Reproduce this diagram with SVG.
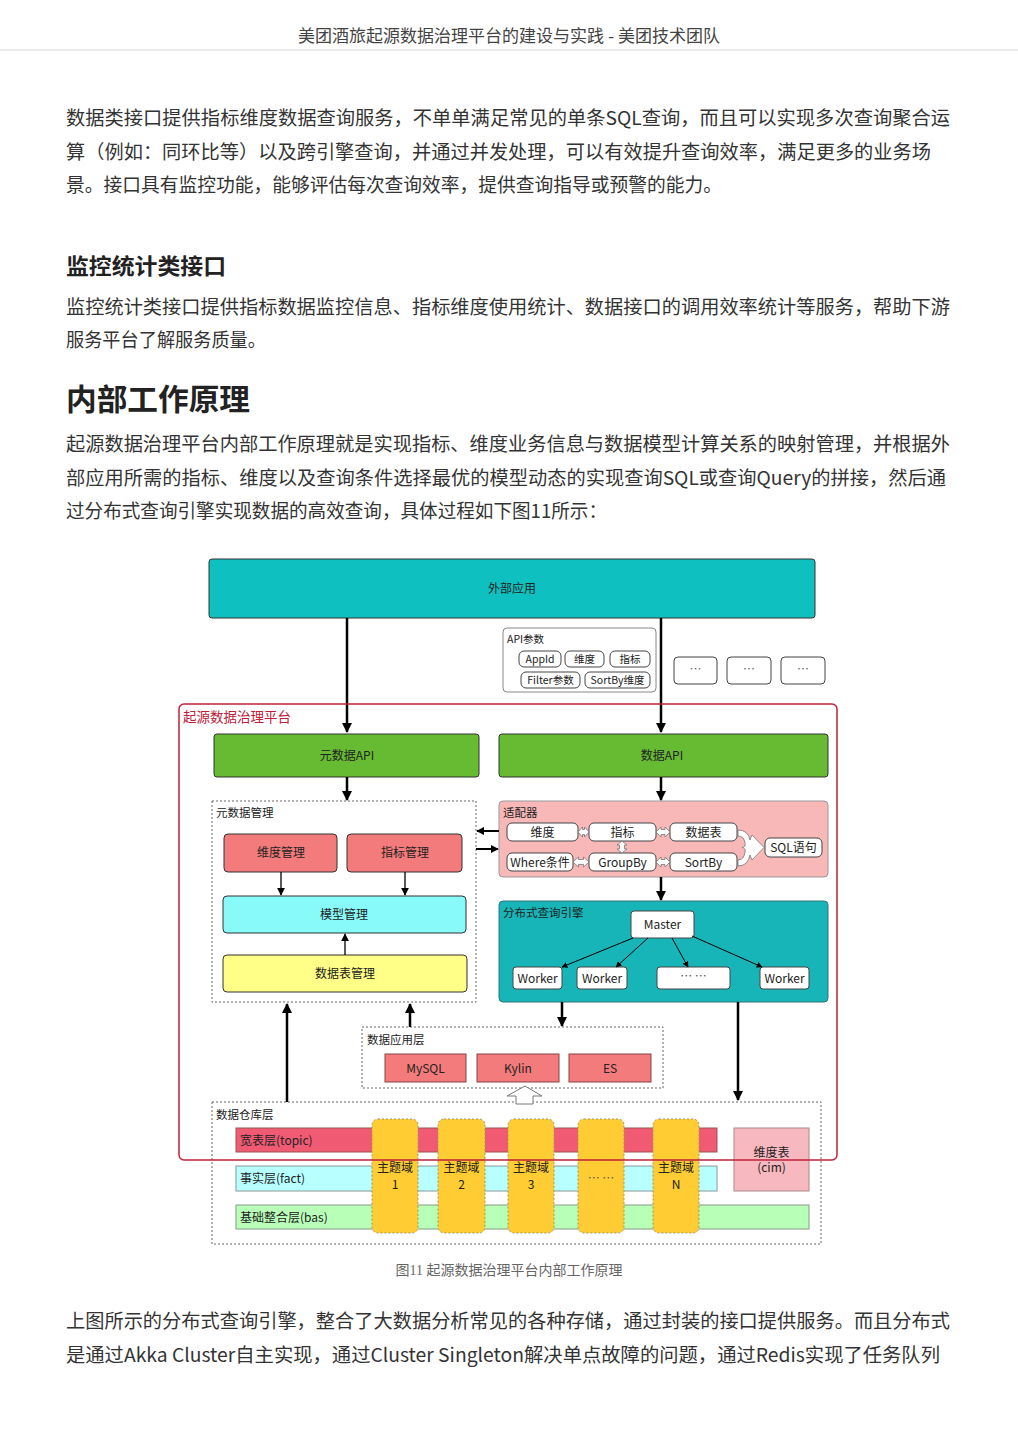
<svg xmlns="http://www.w3.org/2000/svg" width="1018" height="1440" viewBox="0 0 1018 1440">
<style>
.hdr{font-family:"Liberation Serif","Noto Sans CJK SC",serif;font-size:17px;fill:#444}
.body{font-family:"Noto Sans CJK SC",sans-serif;font-size:19px;fill:#333}
.h3{font-family:"Noto Sans CJK SC",sans-serif;font-size:22px;font-weight:bold;fill:#222}
.h2{font-family:"Noto Sans CJK SC",sans-serif;font-size:30px;font-weight:bold;fill:#222}
.cap{font-family:"Liberation Serif","Noto Sans CJK SC",serif;font-size:14px;fill:#666}
.t{font-family:"Noto Sans CJK SC",sans-serif;font-size:12px;fill:#222}
.tc{font-family:"Noto Sans CJK SC",sans-serif;font-size:12px;fill:#222;text-anchor:middle}
.lbl{font-family:"Noto Sans CJK SC",sans-serif;font-size:11.5px;fill:#222}
.box{stroke:#333;stroke-width:1}
.dot{fill:none;stroke:#666;stroke-width:1;stroke-dasharray:2,2}
.pill{fill:#fff;stroke:#444;stroke-width:1}
.conn{stroke:#000;fill:none}
.dbl{fill:#fff;stroke:#777;stroke-width:0.8}
</style>
<defs>
<marker id="ah" viewBox="0 0 10 10" refX="9" refY="5" markerWidth="4" markerHeight="4.4" orient="auto" markerUnits="strokeWidth"><path d="M0,0 L10,5 L0,10 z" fill="#000"/></marker>
<marker id="ahs" viewBox="0 0 10 10" refX="9" refY="5" markerWidth="6" markerHeight="6" orient="auto" markerUnits="strokeWidth"><path d="M0,0 L10,5 L0,10 z" fill="#000"/></marker>
</defs>
<rect width="1018" height="1440" fill="#fff"/>
<g id="page-text">
<text class="hdr" x="509" y="42" text-anchor="middle">美团酒旅起源数据治理平台的建设与实践 - 美团技术团队</text>
<line x1="0" y1="50" x2="1018" y2="50" stroke="#e4e4e4" stroke-width="1.5"/>
<text class="body" x="66" y="125" textLength="884" lengthAdjust="spacingAndGlyphs">数据类接口提供指标维度数据查询服务，不单单满足常见的单条SQL查询，而且可以实现多次查询聚合运</text>
<text class="body" x="66" y="159" textLength="865" lengthAdjust="spacingAndGlyphs">算（例如：同环比等）以及跨引擎查询，并通过并发处理，可以有效提升查询效率，满足更多的业务场</text>
<text class="body" x="66" y="192" textLength="656" lengthAdjust="spacingAndGlyphs">景。接口具有监控功能，能够评估每次查询效率，提供查询指导或预警的能力。</text>
<text class="h3" x="66" y="274" textLength="160" lengthAdjust="spacingAndGlyphs">监控统计类接口</text>
<text class="body" x="66" y="314" textLength="884" lengthAdjust="spacingAndGlyphs">监控统计类接口提供指标数据监控信息、指标维度使用统计、数据接口的调用效率统计等服务，帮助下游</text>
<text class="body" x="66" y="347" textLength="200" lengthAdjust="spacingAndGlyphs">服务平台了解服务质量。</text>
<text class="h2" x="66" y="410" textLength="184" lengthAdjust="spacingAndGlyphs">内部工作原理</text>
<text class="body" x="66" y="451" textLength="884" lengthAdjust="spacingAndGlyphs">起源数据治理平台内部工作原理就是实现指标、维度业务信息与数据模型计算关系的映射管理，并根据外</text>
<text class="body" x="66" y="485" textLength="880" lengthAdjust="spacingAndGlyphs">部应用所需的指标、维度以及查询条件选择最优的模型动态的实现查询SQL或查询Query的拼接，然后通</text>
<text class="body" x="66" y="518" textLength="541" lengthAdjust="spacingAndGlyphs">过分布式查询引擎实现数据的高效查询，具体过程如下图11所示：</text>
<text class="cap" x="509" y="1275" text-anchor="middle">图11 起源数据治理平台内部工作原理</text>
<text class="body" x="66" y="1328" textLength="884" lengthAdjust="spacingAndGlyphs">上图所示的分布式查询引擎，整合了大数据分析常见的各种存储，通过封装的接口提供服务。而且分布式</text>
<text class="body" x="66" y="1362" textLength="874" lengthAdjust="spacingAndGlyphs">是通过Akka Cluster自主实现，通过Cluster Singleton解决单点故障的问题，通过Redis实现了任务队列</text>
</g>

<g id="ext-app"><rect class="box" x="209" y="559" width="606" height="59" rx="3" fill="#0EC0C0"/><text class="tc" x="512" y="593">外部应用</text></g>

<g id="api-params">
<rect x="503" y="628" width="153" height="64" rx="4" fill="#fff" stroke="#888"/>
<text class="lbl" x="507" y="643" style="font-size:10.5px">API参数</text>
<rect class="pill" x="519" y="651" width="42" height="16" rx="5"/><text class="tc" x="540" y="663" style="font-size:10.5px">AppId</text>
<rect class="pill" x="565" y="651" width="39" height="16" rx="5"/><text class="tc" x="584.5" y="663" style="font-size:10.5px">维度</text>
<rect class="pill" x="610" y="651" width="40" height="16" rx="5"/><text class="tc" x="630" y="663" style="font-size:10.5px">指标</text>
<rect class="pill" x="521" y="672" width="59" height="16" rx="5"/><text class="tc" x="550.5" y="684" style="font-size:10.5px">Filter参数</text>
<rect class="pill" x="585" y="672" width="65" height="16" rx="5"/><text class="tc" x="617.5" y="684" style="font-size:10.5px">SortBy维度</text>
</g>
<g id="more1"><rect class="pill" x="674" y="657" width="43" height="27" rx="4"/><text class="tc" x="695.5" y="674" style="fill:#666">…</text></g>
<g id="more2"><rect class="pill" x="727" y="657" width="44" height="27" rx="4"/><text class="tc" x="749" y="674" style="fill:#666">…</text></g>
<g id="more3"><rect class="pill" x="781" y="657" width="44" height="27" rx="4"/><text class="tc" x="803" y="674" style="fill:#666">…</text></g>

<g id="meta-api"><rect class="box" x="214" y="734" width="265" height="43" rx="3" fill="#66BB33"/><text class="tc" x="347" y="760">元数据API</text></g>
<g id="data-api"><rect class="box" x="499" y="734" width="329" height="43" rx="3" fill="#66BB33"/><text class="tc" x="662" y="760">数据API</text></g>

<g id="meta-mgmt">
<rect class="dot" x="212" y="801" width="264" height="201"/>
<text class="lbl" x="216" y="817">元数据管理</text>
</g>
<g id="dim-mgmt"><rect class="box" x="224" y="834" width="113" height="38" rx="4" fill="#F47B7B" stroke="#a55"/><text class="tc" x="281" y="857">维度管理</text></g>
<g id="ind-mgmt"><rect class="box" x="347" y="834" width="115" height="38" rx="4" fill="#F47B7B" stroke="#a55"/><text class="tc" x="405" y="857">指标管理</text></g>
<g id="model-mgmt"><rect class="box" x="223" y="896" width="243" height="37" rx="4" fill="#88FAFA" stroke="#5aa"/><text class="tc" x="344" y="919">模型管理</text></g>
<g id="table-mgmt"><rect class="box" x="223" y="955" width="244" height="37" rx="4" fill="#FFFF88" stroke="#aa6"/><text class="tc" x="345" y="978">数据表管理</text></g>

<g id="adapter">
<rect x="499" y="801" width="329" height="76" rx="4" fill="#F8B8B8" stroke="#999"/>
<text class="lbl" x="503" y="817">适配器</text>
<rect class="pill" x="507" y="823" width="71" height="18" rx="5"/><text class="tc" x="542.5" y="836.5">维度</text>
<rect class="pill" x="589" y="823" width="67" height="18" rx="5"/><text class="tc" x="622.5" y="836.5">指标</text>
<rect class="pill" x="670" y="823" width="67" height="18" rx="5"/><text class="tc" x="703.5" y="836.5">数据表</text>
<rect class="pill" x="507" y="853" width="66" height="18" rx="5"/><text class="tc" x="540" y="866.5">Where条件</text>
<rect class="pill" x="589" y="853" width="67" height="18" rx="5"/><text class="tc" x="622.5" y="866.5">GroupBy</text>
<rect class="pill" x="670" y="853" width="67" height="18" rx="5"/><text class="tc" x="703.5" y="866.5">SortBy</text>
<rect class="pill" x="765" y="838" width="57" height="19" rx="5"/><text class="tc" x="793.5" y="852">SQL语句</text>
<path class="dbl" d="M578,832 L582.5,827 L582.5,829.5 L584.5,829.5 L584.5,827 L589,832 L584.5,837 L584.5,834.5 L582.5,834.5 L582.5,837 Z"/>
<path class="dbl" d="M656,832 L661,827 L661,829.5 L665,829.5 L665,827 L670,832 L665,837 L665,834.5 L661,834.5 L661,837 Z"/>
<path class="dbl" d="M573,862 L578.5,857 L578.5,859.5 L583.5,859.5 L583.5,857 L589,862 L583.5,867 L583.5,864.5 L578.5,864.5 L578.5,867 Z"/>
<path class="dbl" d="M656,862 L661,857 L661,859.5 L665,859.5 L665,857 L670,862 L665,867 L665,864.5 L661,864.5 L661,867 Z"/>
<path class="dbl" d="M622,841 L627,845 L624.5,845 L624.5,849 L627,849 L622,853 L617,849 L619.5,849 L619.5,845 L617,845 Z"/>
<path class="dbl" d="M738,830 Q748,830 750,840 L752,835 L764,847.5 L752,860 L750,855 Q748,866 738,866 L738,860 Q744,860 745,852 Q746,848 742,847.5 Q746,847 745,843 Q744,836 738,836 Z"/>
</g>

<g id="engine">
<rect x="499" y="901" width="329" height="101" rx="4" fill="#17B4B8" stroke="#377"/>
<text class="lbl" x="503" y="917">分布式查询引擎</text>
</g>
<g id="master"><rect class="pill" x="631" y="911" width="63" height="27" rx="3" stroke="#555"/><text class="tc" x="662.5" y="929">Master</text></g>
<g id="worker1"><rect class="pill" x="513" y="967" width="49" height="22" rx="3" stroke="#555"/><text class="tc" x="537.5" y="982.5">Worker</text></g>
<g id="worker2"><rect class="pill" x="577" y="967" width="50" height="22" rx="3" stroke="#555"/><text class="tc" x="602" y="982.5">Worker</text></g>
<g id="worker3"><rect class="pill" x="657" y="967" width="73" height="22" rx="3" stroke="#555"/><text class="tc" x="693.5" y="981" style="fill:#555">… …</text></g>
<g id="worker4"><rect class="pill" x="760" y="967" width="49" height="22" rx="3" stroke="#555"/><text class="tc" x="784.5" y="982.5">Worker</text></g>

<g id="app-layer">
<rect class="dot" x="362" y="1027" width="301" height="61"/>
<text class="lbl" x="367" y="1044">数据应用层</text>
</g>
<g id="mysql"><rect x="385" y="1054" width="81" height="28" fill="#F47B7B" stroke="#844"/><text class="tc" x="425.5" y="1072.5">MySQL</text></g>
<g id="kylin"><rect x="477" y="1054" width="82" height="28" fill="#F47B7B" stroke="#844"/><text class="tc" x="518" y="1072.5">Kylin</text></g>
<g id="es"><rect x="569" y="1054" width="82" height="28" fill="#F47B7B" stroke="#844"/><text class="tc" x="610" y="1072.5">ES</text></g>

<g id="warehouse">
<rect class="dot" x="212" y="1102" width="609" height="142"/>
<text class="lbl" x="216" y="1119">数据仓库层</text>
</g>
<g id="topic"><rect x="236" y="1128" width="481" height="24" fill="#F05A72" stroke="#955"/><text class="t" x="240" y="1144.5">宽表层(topic)</text></g>
<g id="fact"><rect x="236" y="1166" width="481" height="25" fill="#B8FFFF" stroke="#899"/><text class="t" x="240" y="1183">事实层(fact)</text></g>
<g id="bas"><rect x="236" y="1205" width="573" height="24" fill="#B8FFB8" stroke="#898"/><text class="t" x="240" y="1221.5">基础整合层(bas)</text></g>
<g id="dim-table"><rect x="734" y="1128" width="75" height="63" fill="#F8B8C0" stroke="#a88"/><text class="tc" x="771.5" y="1157">维度表</text><text class="tc" x="771.5" y="1172">(cim)</text></g>
<g id="domain1"><rect x="372" y="1119" width="46" height="114" rx="6" fill="#FFCC33" stroke="#996" stroke-dasharray="2,2"/><text class="tc" x="395" y="1172">主题域</text><text class="tc" x="395" y="1189">1</text></g>
<g id="domain2"><rect x="438" y="1119" width="47" height="114" rx="6" fill="#FFCC33" stroke="#996" stroke-dasharray="2,2"/><text class="tc" x="461.5" y="1172">主题域</text><text class="tc" x="461.5" y="1189">2</text></g>
<g id="domain3"><rect x="508" y="1119" width="46" height="114" rx="6" fill="#FFCC33" stroke="#996" stroke-dasharray="2,2"/><text class="tc" x="531" y="1172">主题域</text><text class="tc" x="531" y="1189">3</text></g>
<g id="domain4"><rect x="578" y="1119" width="46" height="114" rx="6" fill="#FFCC33" stroke="#996" stroke-dasharray="2,2"/><text class="tc" x="601" y="1183" style="fill:#555">… …</text></g>
<g id="domainN"><rect x="653" y="1119" width="46" height="114" rx="6" fill="#FFCC33" stroke="#996" stroke-dasharray="2,2"/><text class="tc" x="676" y="1172">主题域</text><text class="tc" x="676" y="1189">N</text></g>

<g id="connectors">
<line class="conn" x1="347" y1="618" x2="347" y2="732" stroke-width="2.5" marker-end="url(#ah)"/>
<line class="conn" x1="661" y1="618" x2="661" y2="732" stroke-width="2.5" marker-end="url(#ah)"/>
<line class="conn" x1="347" y1="777" x2="347" y2="800" stroke-width="2.5" marker-end="url(#ah)"/>
<line class="conn" x1="661" y1="777" x2="661" y2="800" stroke-width="2.5" marker-end="url(#ah)"/>
<line class="conn" x1="281" y1="872" x2="281" y2="895" stroke-width="1.3" marker-end="url(#ahs)"/>
<line class="conn" x1="405" y1="872" x2="405" y2="895" stroke-width="1.3" marker-end="url(#ahs)"/>
<line class="conn" x1="345" y1="955" x2="345" y2="934" stroke-width="1.3" marker-end="url(#ahs)"/>
<line class="conn" x1="499" y1="831" x2="477" y2="831" stroke-width="2" marker-end="url(#ah)"/>
<line class="conn" x1="476" y1="849" x2="498" y2="849" stroke-width="2" marker-end="url(#ah)"/>
<line class="conn" x1="661" y1="877" x2="661" y2="900" stroke-width="2.5" marker-end="url(#ah)"/>
<line class="conn" x1="633" y1="938" x2="562" y2="967" stroke-width="1" marker-end="url(#ahs)"/>
<line class="conn" x1="648" y1="938" x2="616" y2="967" stroke-width="1" marker-end="url(#ahs)"/>
<line class="conn" x1="672" y1="938" x2="688" y2="967" stroke-width="1" marker-end="url(#ahs)"/>
<line class="conn" x1="692" y1="936" x2="762" y2="967" stroke-width="1" marker-end="url(#ahs)"/>
<line class="conn" x1="562" y1="1002" x2="562" y2="1026" stroke-width="2.5" marker-end="url(#ah)"/>
<line class="conn" x1="738" y1="1002" x2="738" y2="1100" stroke-width="2.5" marker-end="url(#ah)"/>
<line class="conn" x1="287" y1="1102" x2="287" y2="1004" stroke-width="2.5" marker-end="url(#ah)"/>
<line class="conn" x1="410" y1="1027" x2="410" y2="1004" stroke-width="2.5" marker-end="url(#ah)"/>
<path d="M525,1086 L542,1096 L533,1096 L533,1104 L516,1104 L516,1096 L507,1096 Z" fill="#fff" stroke="#777" stroke-width="1"/>
</g>

<g id="platform">
<rect x="179" y="704" width="658" height="456" rx="5" fill="none" stroke="#C0203A" stroke-width="1.5"/>
<text x="183" y="722" style="font-family:'Noto Sans CJK SC',sans-serif;font-size:13.5px;fill:#C0203A">起源数据治理平台</text>
</g>
</svg>
